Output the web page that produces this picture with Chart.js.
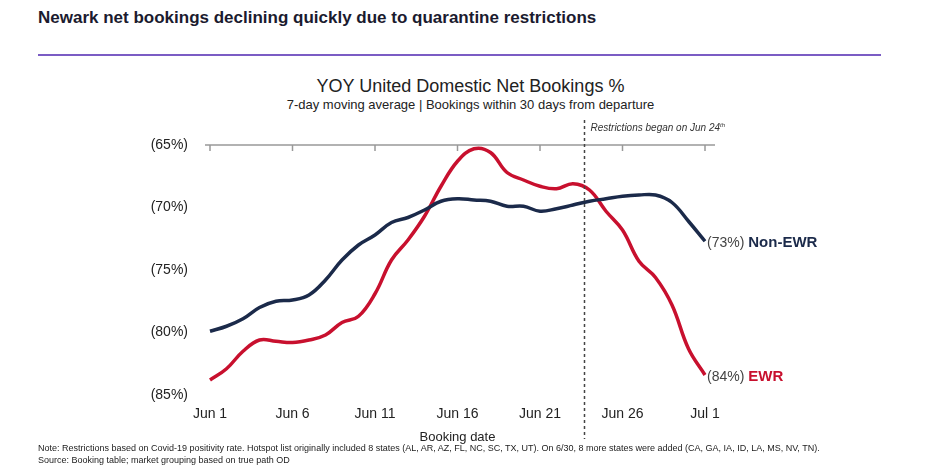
<!DOCTYPE html>
<html>
<head>
<meta charset="utf-8">
<script src="https://cdn.jsdelivr.net/npm/chart.js@4"></script>
<style>
body{margin:0;width:941px;height:466px;background:#fff;font-family:"Liberation Sans",Arial,sans-serif;position:relative;overflow:hidden}
#head{position:absolute;left:38px;top:8px;font-size:17px;font-weight:bold;color:#1b1b2f}
#rule{position:absolute;left:38px;top:54px;width:843px;height:2px;background:#7b5cc4}
#ttl{position:absolute;left:0;width:941px;top:76px;text-align:center;font-size:18px;color:#222}
#sub{position:absolute;left:0;width:941px;top:97px;text-align:center;font-size:13px;color:#222}
#note{position:absolute;left:38px;top:442px;font-size:9px;color:#222;line-height:12px}
canvas{position:absolute;left:0;top:0}
</style>
</head>
<body>
<div id="head">Newark net bookings declining quickly due to quarantine restrictions</div>
<div id="rule"></div>
<div id="ttl">YOY United Domestic Net Bookings %</div>
<div id="sub">7-day moving average | Bookings within 30 days from departure</div>
<canvas id="grafico" width="941" height="466"></canvas>
<div id="note">Note: Restrictions based on Covid-19 positivity rate. Hotspot list originally included 8 states (AL, AR, AZ, FL, NC, SC, TX, UT). On 6/30, 8 more states were added (CA, GA, IA, ID, LA, MS, NV, TN).<br>Source: Booking table; market grouping based on true path OD</div>
<script>
// Dados do gráfico //
var dias = [];
for (var i = 1; i <= 30; i++) dias.push('Jun ' + i);
dias.push('Jul 1');
var nonEwr = [-79.9,-79.5,-78.9,-78.0,-77.5,-77.4,-77.0,-75.8,-74.2,-73.0,-72.2,-71.2,-70.8,-70.2,-69.5,-69.3,-69.4,-69.5,-69.9,-69.9,-70.3,-70.1,-69.8,-69.5,-69.3,-69.1,-69.0,-69.0,-69.6,-71.1,-72.7];
var ewr = [-83.8,-82.9,-81.5,-80.6,-80.7,-80.8,-80.6,-80.2,-79.2,-78.7,-76.9,-74.2,-72.6,-70.7,-68.3,-66.3,-65.3,-65.6,-67.2,-67.8,-68.3,-68.5,-68.1,-68.6,-70.3,-71.8,-74.3,-75.6,-77.8,-81.3,-83.4];
var rotulos = ['(73%) Non-EWR', '(84%) EWR'];
var inicioRestricao = 23; // Jun 24

// Plugin para linha superior, linha tracejada e rótulos finais //
var extras = {
    id: 'extras',
    afterDatasetsDraw: function(chart){
        var ctx = chart.ctx, a = chart.chartArea, x = chart.scales.x, y = chart.scales.y;
        ctx.save();
        ctx.strokeStyle = '#999'; ctx.lineWidth = 1.5;
        ctx.beginPath(); ctx.moveTo(a.left - 5, a.top); ctx.lineTo(a.right + 10, a.top); ctx.stroke();
        for (var i = 0; i < dias.length; i += 5){
            var px = x.getPixelForValue(i);
            ctx.beginPath(); ctx.moveTo(px, a.top); ctx.lineTo(px, a.top + 6); ctx.stroke();
        }
        var dx = x.getPixelForValue(inicioRestricao) - 5;
        ctx.strokeStyle = '#444'; ctx.setLineDash([3, 3]); ctx.lineWidth = 1.5;
        ctx.beginPath(); ctx.moveTo(dx, a.top - 25); ctx.lineTo(dx, a.bottom + 44); ctx.stroke();
        ctx.setLineDash([]);
        ctx.fillStyle = '#333'; ctx.font = 'italic 10px "Liberation Sans"';
        var txt = 'Restrictions began on Jun 24';
        ctx.fillText(txt, dx + 6, a.top - 14);
        var tw = ctx.measureText(txt).width;
        ctx.font = 'italic 6px "Liberation Sans"';
        ctx.fillText('th', dx + 6 + tw, a.top - 18);
        var cores = ['#1b2a4a', '#c8102e'];
        var ult = dias.length - 1;
        [nonEwr, ewr].forEach(function(s, k){
            var px = x.getPixelForValue(ult) + 2, py = y.getPixelForValue(s[ult]) + 6;
            var partes = rotulos[k].split(') ');
            ctx.font = '14px "Liberation Sans"'; ctx.fillStyle = '#444';
            var p1 = partes[0] + ') ';
            ctx.fillText(p1, px, py);
            var w = ctx.measureText(p1).width;
            ctx.font = 'bold 15px "Liberation Sans"'; ctx.fillStyle = cores[k];
            ctx.fillText(partes[1], px + w, py);
        });
        ctx.restore();
    }
};

var meuGrafico = new Chart(document.getElementById('grafico'), {
    type: 'line',
    data: {
        labels: dias,
        datasets: [{
            label: 'Non-EWR', data: nonEwr, borderColor: '#1b2a4a', borderWidth: 3.5,
            pointRadius: 0, tension: 0.4, fill: false
        }, {
            label: 'EWR', data: ewr, borderColor: '#c8102e', borderWidth: 3.5,
            pointRadius: 0, tension: 0.4, fill: false
        }]
    },
    options: {
        responsive: false, animation: false, devicePixelRatio: 1,
        layout: {padding: {left: 140, top: 145, right: 236, bottom: 21}},
        plugins: {legend: {display: false}, tooltip: {enabled: false}},
        scales: {
            x: {
                offset: false, grid: {display: false}, border: {display: false},
                afterFit: function(s){ s.height = 50; },
                ticks: {autoSkip: false, maxRotation: 0, color: '#222', font: {family: 'Liberation Sans', size: 14},
                    callback: function(v, i){ return i % 5 == 0 ? dias[i] : null; }},
                title: {display: true, text: 'Booking date', color: '#222', font: {family: 'Liberation Sans', size: 13}, padding: 0}
            },
            y: {
                min: -85, max: -65, grid: {display: false}, border: {display: false},
                afterFit: function(s){ s.width = 70; },
                ticks: {stepSize: 5, color: '#222', font: {family: 'Liberation Sans', size: 14}, padding: 14,
                    callback: function(v){ return '(' + (-v) + '%)'; }}
            }
        }
    },
    plugins: [extras]
});
</script>
</body>
</html>
